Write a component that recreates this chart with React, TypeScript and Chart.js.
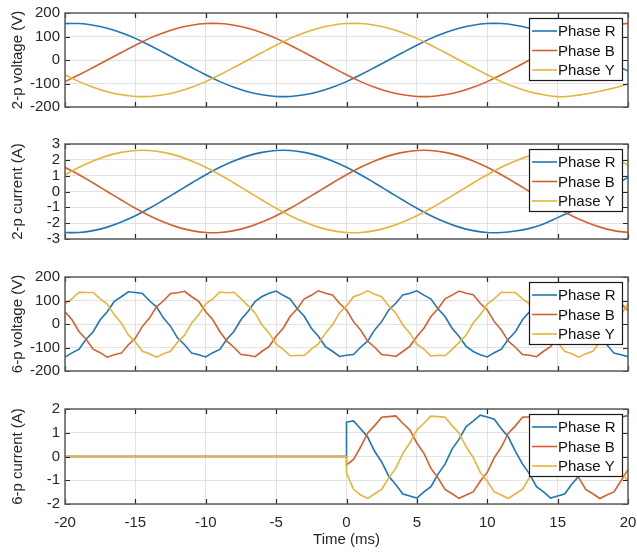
import { useEffect, useRef } from 'react';
import { Chart, registerables } from 'chart.js';

Chart.register(...registerables);

// Sample times (ms)
const TIME_1MS = [
  -20, -19, -18, -17, -16, -15, -14, -13, -12, -11, -10, -9, -8, -7, -6, -5, -4, -3, -2, -1,
  0, 1, 2, 3, 4, 5, 6, 7, 8, 9, 10, 11, 12, 13, 14, 15, 16, 17, 18, 19, 20,
];
const TIME_HALF_MS = [
  -20, -19.5, -19, -18.5, -18, -17.5, -17, -16.5, -16, -15.5, -15, -14.5, -14, -13.5, -13, -12.5,
  -12, -11.5, -11, -10.5, -10, -9.5, -9, -8.5, -8, -7.5, -7, -6.5, -6, -5.5, -5, -4.5, -4, -3.5,
  -3, -2.5, -2, -1.5, -1, -0.5, 0, 0.5, 1, 1.5, 2, 2.5, 3, 3.5, 4, 4.5, 5, 5.5, 6, 6.5, 7, 7.5, 8,
  8.5, 9, 9.5, 10, 10.5, 11, 11.5, 12, 12.5, 13, 13.5, 14, 14.5, 15, 15.5, 16, 16.5, 17, 17.5, 18,
  18.5, 19, 19.5, 20,
];
const X_TICKS = [-20, -15, -10, -5, 0, 5, 10, 15, 20];

// 2-pole machine, phase voltages (V), 1 ms samples
const V2_R = [155, 155, 148, 135, 116, 92, 63, 32, 0, -32, -63, -92, -116, -135, -148, -155, -155, -148, -135, -116, -92, -63, -32, 0, 32, 63, 92, 116, 135, 148, 155, 155, 148, 135, 116, 92, 70, 42, 12, -18, -47];
const V2_B = [-92, -63, -32, 0, 32, 63, 92, 116, 135, 148, 155, 155, 148, 135, 116, 92, 63, 32, 0, -32, -63, -92, -116, -135, -148, -155, -155, -148, -135, -116, -92, -63, -32, 0, 32, 63, 88, 112, 132, 147, 156];
const V2_Y = [-63, -92, -116, -135, -148, -155, -155, -148, -135, -116, -92, -63, -32, 0, 32, 63, 92, 116, 135, 148, 155, 155, 148, 135, 116, 92, 63, 32, 0, -32, -63, -92, -116, -135, -148, -156, -153, -145, -133, -119, -102];

// 2-pole machine, phase currents (A), 1 ms samples
const I2_R = [-2.59, -2.59, -2.47, -2.25, -1.93, -1.53, -1.06, -0.54, 0, 0.54, 1.06, 1.53, 1.93, 2.25, 2.47, 2.59, 2.59, 2.47, 2.25, 1.93, 1.53, 1.06, 0.54, 0, -0.54, -1.06, -1.53, -1.93, -2.25, -2.47, -2.59, -2.59, -2.5, -2.33, -2.05, -1.65, -1.25, -0.75, -0.2, 0.35, 0.9];
const I2_B = [1.53, 1.06, 0.54, 0, -0.54, -1.06, -1.53, -1.93, -2.25, -2.47, -2.59, -2.59, -2.47, -2.25, -1.93, -1.53, -1.06, -0.54, 0, 0.54, 1.06, 1.53, 1.93, 2.25, 2.47, 2.59, 2.59, 2.47, 2.25, 1.93, 1.53, 1.06, 0.54, 0, -0.54, -1.06, -1.53, -1.93, -2.25, -2.47, -2.59];
const I2_Y = [1.06, 1.53, 1.93, 2.25, 2.47, 2.59, 2.59, 2.47, 2.25, 1.93, 1.53, 1.06, 0.54, 0, -0.54, -1.06, -1.53, -1.93, -2.25, -2.47, -2.59, -2.59, -2.47, -2.25, -1.93, -1.53, -1.06, -0.54, 0, 0.54, 1.06, 1.53, 1.93, 2.25, 2.47, 2.59, 2.59, 2.47, 2.25, 2.05, 1.7];

// 6-pole machine, phase voltages (V), 0.5 ms samples
const V6_R = [
  -141, -123, -107, -65, -33, 18, 52, 96, 116, 137, 134, 130, 99, 73, 25, -10, -60, -88, -124, -131,
  -140, -122, -108, -65, -32, 18, 53, 95, 117, 131, 140, 122, 106, 65, 33, -18, -52, -96, -116, -138,
  -133, -130, -99, -73, -25, 10, 60, 88, 124, 131, 141, 123, 106, 65, 32, -18, -53, -95, -117, -131,
  -140, -122, -107, -65, -33, 18, 52, 96, 116, 137, 134, 130, 99, 73, 25, -10, -60, -88, -124, -131,
  -139,
];
const V6_B = [
  52, 18, -33, -65, -107, -122, -141, -131, -124, -88, -60, -10, 25, 73, 99, 130, 133, 139, 116, 96,
  52, 18, -32, -73, -99, -130, -133, -139, -116, -96, -52, -18, 33, 65, 107, 122, 141, 131, 124, 88,
  60, 10, -25, -73, -99, -130, -133, -138, -117, -95, -53, -18, 32, 65, 107, 123, 140, 131, 125, 88,
  60, 10, -25, -73, -99, -130, -133, -139, -116, -96, -52, -18, 33, 65, 107, 122, 141, 131, 124, 88,
  57,
];
const V6_Y = [
  85, 108, 135, 134, 134, 107, 85, 39, 4, -47, -77, -116, -127, -141, -127, -116, -77, -47, 4, 39,
  86, 107, 136, 133, 135, 108, 78, 47, -4, -39, -85, -108, -135, -134, -134, -107, -85, -39, -4, 47,
  77, 116, 127, 141, 127, 116, 77, 47, -4, -39, -86, -107, -136, -133, -135, -108, -78, -47, 4, 39,
  85, 108, 135, 134, 134, 107, 85, 39, 4, -47, -77, -116, -127, -141, -127, -116, -77, -47, 4, 39,
  84,
];

// 6-pole machine, phase currents (A): idle until 0 ms, then 0.5 ms samples from 0 to 20 ms
const IDLE_TIME = [-20, 0];
const IDLE_CURRENT = [0, 0];
const I6_R = [1.45, 1.5, 1.17, 0.82, 0.22, -0.23, -0.83, -1.18, -1.58, -1.66, -1.75, -1.49, -1.27, -0.74, -0.32, 0.31, 0.73, 1.26, 1.49, 1.74, 1.66, 1.57, 1.17, 0.82, 0.22, -0.31, -0.73, -1.27, -1.49, -1.75, -1.66, -1.58, -1.17, -0.83, -0.22, 0.23, 0.83, 1.18, 1.58, 1.66, 1.72];
const I6_B = [-0.35, -0.12, 0.4, 0.98, 1.3, 1.65, 1.68, 1.71, 1.4, 1.12, 0.57, 0.13, -0.5, -0.9, -1.39, -1.57, -1.76, -1.62, -1.49, -1.04, -0.67, -0.05, 0.4, 0.98, 1.29, 1.65, 1.67, 1.71, 1.39, 1.12, 0.57, 0.14, -0.5, -0.89, -1.39, -1.57, -1.77, -1.62, -1.49, -1.03, -0.55];
const I6_Y = [-0.7, -1.38, -1.62, -1.76, -1.57, -1.39, -0.9, -0.5, 0.13, 0.57, 1.12, 1.4, 1.7, 1.68, 1.65, 1.3, 0.98, 0.41, -0.04, -0.67, -1.03, -1.49, -1.62, -1.77, -1.57, -1.39, -0.89, -0.5, 0.14, 0.57, 1.12, 1.39, 1.71, 1.67, 1.65, 1.29, 0.98, 0.4, -0.05, -0.67, -1.02];
const ACTIVE_TIME = TIME_HALF_MS.slice(40);

const PHASE_NAMES = ['Phase R', 'Phase B', 'Phase Y'];
const PHASE_COLORS = ['#1f76b4', '#d4602e', '#e6b43a'];

const FONT_FAMILY = '"Liberation Sans", Arial, Helvetica, sans-serif';
const TEXT_COLOR = '#262626';
const GRID_COLOR = '#e2e2e2';

type Pt = { x: number; y: number };
const zip = (t: number[], v: number[]): Pt[] => t.map((x, i) => ({ x, y: v[i] }));

type PanelSpec = {
  key: string;
  yTitle: string;
  yMin: number;
  yMax: number;
  yStep: number;
  series: Pt[][];
  tension: number;
  showX: boolean;
  top: number;
  height: number;
  padTop: number;
  bottomSpace: number;
};

const PANELS: PanelSpec[] = [
  {
    key: 'v2', yTitle: '2-p voltage (V)', yMin: -200, yMax: 200, yStep: 100,
    series: [zip(TIME_1MS, V2_R), zip(TIME_1MS, V2_B), zip(TIME_1MS, V2_Y)],
    tension: 0.4, showX: false, top: 0, height: 130, padTop: 13, bottomSpace: 23,
  },
  {
    key: 'i2', yTitle: '2-p current (A)', yMin: -3, yMax: 3, yStep: 1,
    series: [zip(TIME_1MS, I2_R), zip(TIME_1MS, I2_B), zip(TIME_1MS, I2_Y)],
    tension: 0.4, showX: false, top: 130, height: 130, padTop: 14, bottomSpace: 21,
  },
  {
    key: 'v6', yTitle: '6-p voltage (V)', yMin: -200, yMax: 200, yStep: 100,
    series: [zip(TIME_HALF_MS, V6_R), zip(TIME_HALF_MS, V6_B), zip(TIME_HALF_MS, V6_Y)],
    tension: 0, showX: false, top: 260, height: 130, padTop: 17, bottomSpace: 19,
  },
  {
    key: 'i6', yTitle: '6-p current (A)', yMin: -2, yMax: 2, yStep: 1,
    series: [
      [...zip(IDLE_TIME, IDLE_CURRENT), ...zip(ACTIVE_TIME, I6_R)],
      [...zip(IDLE_TIME, IDLE_CURRENT), ...zip(ACTIVE_TIME, I6_B)],
      [...zip(IDLE_TIME, IDLE_CURRENT), ...zip(ACTIVE_TIME, I6_Y)],
    ],
    tension: 0, showX: true, top: 390, height: 162, padTop: 19, bottomSpace: 48,
  },
];

// Boxed axes with inward tick marks, plus a framed legend in the top-right corner.
const frameAndLegend = {
  id: 'frameAndLegend',
  afterDatasetsDraw(chart: any) {
    const { ctx, chartArea } = chart;
    const { left, right, top, bottom } = chartArea;
    const xs = chart.scales.x;
    const ys = chart.scales.y;
    ctx.save();

    // legend
    const bw = 93;
    const bh = 62;
    const bx = Math.round(right - 6 - bw);
    const by = Math.round(top + 5);
    ctx.fillStyle = '#ffffff';
    ctx.fillRect(bx, by, bw, bh);
    ctx.strokeStyle = '#1a1a1a';
    ctx.lineWidth = 1.2;
    ctx.strokeRect(bx + 0.5, by + 0.5, bw, bh);
    ctx.font = `15px ${FONT_FAMILY}`;
    ctx.textBaseline = 'middle';
    ctx.textAlign = 'left';
    chart.data.datasets.forEach((ds: any, i: number) => {
      const cy = by + 13 + i * 19.5;
      ctx.strokeStyle = ds.borderColor;
      ctx.lineWidth = 1.6;
      ctx.beginPath();
      ctx.moveTo(bx + 3, cy);
      ctx.lineTo(bx + 28, cy);
      ctx.stroke();
      ctx.fillStyle = '#111111';
      ctx.fillText(ds.label, bx + 29, cy + 1);
    });

    // tick marks pointing into the plot
    ctx.strokeStyle = '#262626';
    ctx.lineWidth = 1.2;
    ctx.beginPath();
    const tl = 5;
    xs.ticks.forEach((t: any) => {
      const px = Math.round(xs.getPixelForValue(t.value)) + 0.5;
      ctx.moveTo(px, top);
      ctx.lineTo(px, top + tl);
      ctx.moveTo(px, bottom);
      ctx.lineTo(px, bottom - tl);
    });
    ys.ticks.forEach((t: any) => {
      const py = Math.round(ys.getPixelForValue(t.value)) + 0.5;
      ctx.moveTo(left, py);
      ctx.lineTo(left + tl, py);
      ctx.moveTo(right, py);
      ctx.lineTo(right - tl, py);
    });
    ctx.stroke();

    // box
    ctx.strokeStyle = '#5c5c5c';
    ctx.lineWidth = 1.5;
    ctx.strokeRect(left, top, right - left, bottom - top);
    ctx.restore();
  },
};

function Panel({ spec }: { spec: PanelSpec }) {
  const ref = useRef<HTMLCanvasElement | null>(null);

  useEffect(() => {
    if (!ref.current) return;
    const font = { family: FONT_FAMILY, size: 15 };
    const chart = new Chart(ref.current, {
      type: 'line',
      data: {
        datasets: spec.series.map((pts, i) => ({
          label: PHASE_NAMES[i],
          data: pts,
          borderColor: PHASE_COLORS[i],
          backgroundColor: PHASE_COLORS[i],
          borderWidth: 1.6,
          pointRadius: 0,
          tension: spec.tension,
          fill: false,
          order: 3 - i,
        })),
      },
      options: {
        responsive: false,
        animation: false,
        events: [],
        layout: { padding: { top: spec.padTop, right: 9, left: 0, bottom: 0 } },
        plugins: { legend: { display: false }, tooltip: { enabled: false } },
        scales: {
          x: {
            type: 'linear',
            min: -20,
            max: 20,
            afterBuildTicks: (scale: any) => {
              scale.ticks = X_TICKS.map((value) => ({ value }));
            },
            ticks: {
              display: spec.showX,
              font,
              color: TEXT_COLOR,
              padding: 10,
              autoSkip: false,
              maxRotation: 0,
            },
            grid: { color: GRID_COLOR, drawTicks: false, lineWidth: 1 },
            border: { display: false },
            title: {
              display: spec.showX,
              text: 'Time (ms)',
              font,
              color: TEXT_COLOR,
              padding: { top: 0, bottom: 3 },
            },
            afterFit: (scale: any) => {
              scale.height = spec.bottomSpace;
              // end labels may overhang the plot; keep the plot edges fixed
              scale.paddingLeft = 0;
              scale.paddingRight = 0;
            },
          },
          y: {
            type: 'linear',
            min: spec.yMin,
            max: spec.yMax,
            ticks: {
              stepSize: spec.yStep,
              font,
              color: TEXT_COLOR,
              padding: 5,
              autoSkip: false,
            },
            grid: { color: GRID_COLOR, drawTicks: false, lineWidth: 1 },
            border: { display: false },
            title: {
              display: true,
              text: spec.yTitle,
              font,
              color: TEXT_COLOR,
              padding: { top: 9, bottom: 0 },
            },
            afterFit: (scale: any) => {
              scale.width = 65;
              scale.paddingTop = 0;
              scale.paddingBottom = 0;
            },
          },
        },
      } as any,
      plugins: [frameAndLegend],
    });
    return () => chart.destroy();
  }, [spec]);

  return (
    <canvas
      ref={ref}
      width={637}
      height={spec.height}
      style={{ position: 'absolute', left: 0, top: spec.top, width: 637, height: spec.height, display: 'block' }}
    />
  );
}

export default function App() {
  return (
    <div style={{ position: 'absolute', left: 0, top: 0, width: 637, height: 552, background: '#ffffff', overflow: 'hidden' }}>
      {PANELS.map((p) => (
        <Panel key={p.key} spec={p} />
      ))}
    </div>
  );
}
